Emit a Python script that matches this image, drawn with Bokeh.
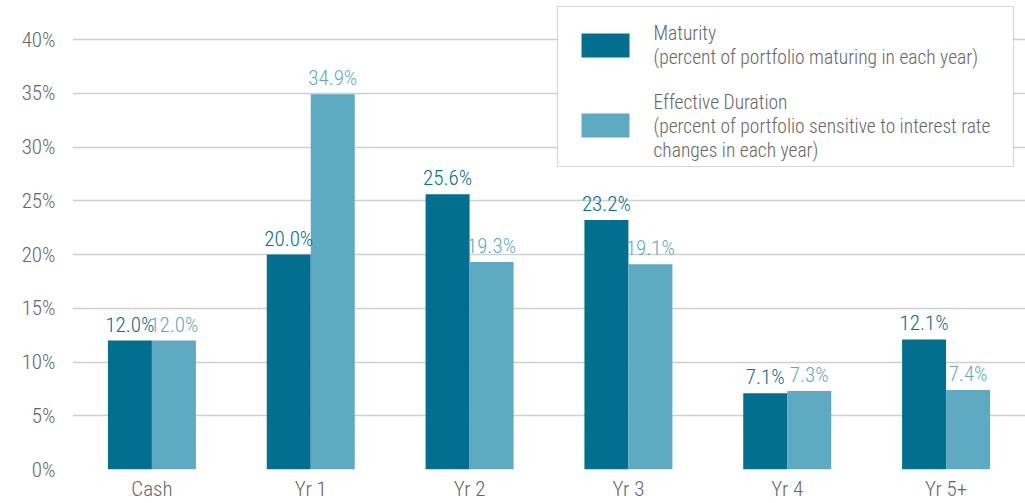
from bokeh.plotting import figure
from bokeh.models import ColumnDataSource, FactorRange, FixedTicker, BoxAnnotation, Label
from bokeh.transform import dodge
from bokeh.core.properties import value
from bokeh.embed import file_html
from bokeh.resources import INLINE

categories = ["Cash", "Yr 1", "Yr 2", "Yr 3", "Yr 4", "Yr 5+"]
maturity = [12.0, 20.0, 25.6, 23.2, 7.1, 12.1]
duration = [12.0, 34.9, 19.3, 19.1, 7.3, 7.4]
y_ticks = [0, 5, 10, 15, 20, 25, 30, 35, 40]

DARK = "#036f8e"
LIGHT = "#5eaac3"
GRAY = "#666666"
FONT = "Roboto Condensed Light"

src = ColumnDataSource(dict(
    cat=categories,
    mat=maturity,
    dur=duration,
    mat_lbl=[f"{v:.1f}%" for v in maturity],
    dur_lbl=[f"{v:.1f}%" for v in duration],
))

W, H = 1025, 503
FL, FB = 72, 469   # frame left, y of zero line (canvas px)
PPU = 10.75        # px per percent

p = figure(x_range=FactorRange(*categories), y_range=(0, FB / PPU),
           width=W, height=H, output_backend="svg", toolbar_location=None,
           min_border_left=FL, min_border_right=0, min_border_top=0, min_border_bottom=H - FB)
p.outline_line_color = None
p.background_fill_color = "white"
p.border_fill_color = "white"

bw = 0.277
p.vbar(x=dodge("cat", -bw / 2, range=p.x_range), top="mat", width=bw, source=src,
       fill_color=DARK, line_color=None)
p.vbar(x=dodge("cat", bw / 2, range=p.x_range), top="dur", width=bw, source=src,
       fill_color=LIGHT, line_color=None)

p.text(x=dodge("cat", -bw / 2, range=p.x_range), y="mat", text="mat_lbl", source=src,
       text_align="center", text_baseline="bottom", y_offset=-4,
       text_color=DARK, text_font=value(FONT), text_font_size="21px")
p.text(x=dodge("cat", bw / 2, range=p.x_range), y="dur", text="dur_lbl", source=src,
       text_align="center", text_baseline="bottom", y_offset=-4,
       text_color=LIGHT, text_font=value(FONT), text_font_size="21px")

# axes
for ax in (p.xaxis, p.yaxis):
    ax.axis_line_color = None
    ax.major_tick_line_color = None
    ax.minor_tick_line_color = None
    ax.major_tick_out = 0
    ax.major_tick_in = 0
    ax.minor_tick_out = 0
    ax.minor_tick_in = 0
    ax.major_label_text_font = FONT
    ax.major_label_text_font_size = "21px"
    ax.major_label_text_color = GRAY

p.yaxis.ticker = FixedTicker(ticks=y_ticks)
p.yaxis.major_label_overrides = {t: f"{t}%" for t in y_ticks}
p.yaxis.major_label_standoff = 17
p.xaxis.major_label_standoff = 7

p.xgrid.grid_line_color = None
p.ygrid.grid_line_color = "#d0d0d0"
p.ygrid.grid_line_width = 1.5

# legend (drawn manually, positioned in canvas pixels)
def px_x(px):
    return (px - FL) / ((W - FL) / len(categories))

def px_y(py):
    return (FB - py) / PPU

p.add_layout(BoxAnnotation(left=px_x(557), right=px_x(1013), top=px_y(6), bottom=px_y(166),
                           fill_color="white", fill_alpha=1, line_color="#7a7a7a", line_width=1.2))
p.add_layout(BoxAnnotation(left=px_x(581), right=px_x(629), top=px_y(33), bottom=px_y(57),
                           fill_color=DARK, fill_alpha=1, line_color=None))
p.add_layout(BoxAnnotation(left=px_x(581), right=px_x(629), top=px_y(113), bottom=px_y(137),
                           fill_color=LIGHT, fill_alpha=1, line_color=None))

legend_lines = [
    ("Maturity", 33),
    ("(percent of portfolio maturing in each year)", 57),
    ("Effective Duration", 102),
    ("(percent of portfolio sensitive to interest rate", 126),
    ("changes in each year)", 150),
]
for txt, py in legend_lines:
    p.add_layout(Label(x=px_x(653), y=px_y(py), text=txt, text_align="left",
                       text_baseline="middle", text_font=FONT, text_font_size="19.5px",
                       text_color=GRAY))

open("out.html", "w").write(file_html(p, INLINE))
